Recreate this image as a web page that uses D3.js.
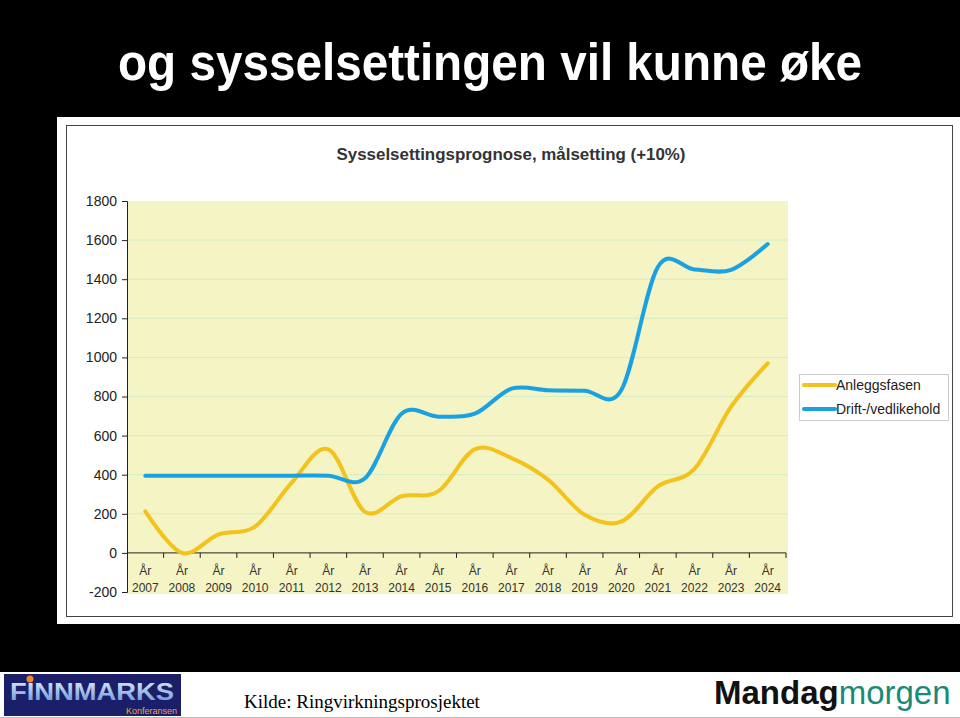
<!DOCTYPE html>
<html>
<head>
<meta charset="utf-8">
<script src="https://cdn.jsdelivr.net/npm/d3@7"></script>
<style>
  html, body { margin: 0; padding: 0; background: #000; }
  svg { display: block; }
</style>
</head>
<body>
<div id="chart"></div>
<script>
// data
const years = ["2007", "2008", "2009", "2010", "2011", "2012", "2013", "2014", "2015",
               "2016", "2017", "2018", "2019", "2020", "2021", "2022", "2023", "2024"]
const anlegg = [212, 0, 95, 135, 360, 530, 210, 290, 315, 530, 485, 375, 195, 160, 340, 430, 748, 970]
const drift  = [395, 395, 395, 395, 395, 395, 382, 712, 697, 712, 840, 832, 830, 832, 1462, 1450, 1448, 1580]
const yTicks = [-200, 0, 200, 400, 600, 800, 1000, 1200, 1400, 1600, 1800]
const seriesNames = ["Anleggsfasen", "Drift-/vedlikehold"]

const W = 960, H = 718
const YELLOW = "#f4c21c", BLUE = "#1ba1df"
const PLOT = {LEFT: 127, RIGHT: 786, TOP: 201, BOTTOM: 592}

const svg = d3.select("#chart").append("svg")
    .attr("width", W)
    .attr("height", H)
    .style("font-family", "'Liberation Sans', Arial, sans-serif")

svg.append("rect").attr("width", W).attr("height", H).attr("fill", "#000")

// slide title
svg.append("text")
    .attr("x", 490).attr("y", 80)
    .attr("text-anchor", "middle")
    .attr("fill", "#fff")
    .style("font-size", "52px").style("font-weight", "bold")
    .attr("textLength", 744).attr("lengthAdjust", "spacingAndGlyphs")
    .text("og sysselsettingen vil kunne øke")

// white panel with inner frame
svg.append("rect").attr("x", 57).attr("y", 117).attr("width", W - 57).attr("height", 507).attr("fill", "#fff")
svg.append("rect").attr("x", 66.5).attr("y", 125.5).attr("width", 886).attr("height", 491)
    .attr("fill", "none").attr("stroke", "#444").attr("stroke-width", 1)

svg.append("text")
    .attr("x", 511).attr("y", 160)
    .attr("text-anchor", "middle")
    .attr("fill", "#333")
    .style("font-size", "16.5px").style("font-weight", "bold")
    .attr("textLength", 349).attr("lengthAdjust", "spacingAndGlyphs")
    .text("Sysselsettingsprognose, målsetting (+10%)")

const x = d3.scaleBand().domain(years).range([PLOT.LEFT, PLOT.RIGHT]).padding(0)
const y = d3.scaleLinear().domain([-200, 1800]).range([PLOT.BOTTOM, PLOT.TOP])
const cx = d => x(d) + x.bandwidth() / 2

// plot background
svg.append("rect")
    .attr("x", PLOT.LEFT).attr("y", PLOT.TOP)
    .attr("width", 788 - PLOT.LEFT).attr("height", PLOT.BOTTOM - PLOT.TOP + 2)
    .attr("fill", "#f4f4c4")

// gridlines
svg.append("g").selectAll("line")
    .data(yTicks.filter(v => v > 0 && v < 1800))
    .join("line")
    .attr("x1", PLOT.LEFT).attr("x2", 788)
    .attr("y1", d => y(d)).attr("y2", d => y(d))
    .attr("stroke", "#d6ecc4").attr("stroke-width", 1)

// y axis
const yAxis = svg.append("g")
    .attr("transform", `translate(${PLOT.LEFT},0)`)
    .call(d3.axisLeft(y).tickValues(yTicks).tickSize(5).tickSizeOuter(5).tickFormat(d => String(d)))
yAxis.select(".domain").attr("stroke", "#222")
yAxis.selectAll(".tick line").attr("stroke", "#222")
yAxis.selectAll("text")
    .attr("fill", "#222")
    .attr("x", -10)
    .style("font-size", "14px")
    .style("font-family", "'Liberation Sans', Arial, sans-serif")

// x axis line at zero, ticks at category boundaries
svg.append("line")
    .attr("x1", PLOT.LEFT).attr("x2", PLOT.RIGHT)
    .attr("y1", y(0)).attr("y2", y(0))
    .attr("stroke", "#222")
svg.append("g").selectAll("line")
    .data(years)
    .join("line")
    .attr("x1", d => x(d) + x.bandwidth()).attr("x2", d => x(d) + x.bandwidth())
    .attr("y1", y(0)).attr("y2", y(0) + 5)
    .attr("stroke", "#222")

const xl = svg.append("g")
    .style("font-size", "12px")
    .attr("fill", "#333")
    .attr("text-anchor", "middle")
xl.selectAll("text.ar").data(years).join("text")
    .attr("class", "ar")
    .attr("x", cx).attr("y", 575)
    .text("År")
xl.selectAll("text.yr").data(years).join("text")
    .attr("class", "yr")
    .attr("x", cx).attr("y", 592)
    .text(d => d)

// lines
const line = d3.line()
    .x((d, i) => cx(years[i]))
    .y(d => y(d))
    .curve(d3.curveCatmullRom.alpha(0))

svg.append("path").datum(anlegg)
    .attr("d", line)
    .attr("fill", "none").attr("stroke", YELLOW).attr("stroke-width", 4)
    .attr("stroke-linecap", "round")
svg.append("path").datum(drift)
    .attr("d", line)
    .attr("fill", "none").attr("stroke", BLUE).attr("stroke-width", 4)
    .attr("stroke-linecap", "round")

// legend
const legend = svg.append("g").attr("transform", "translate(799,374)")
legend.append("rect").attr("x", 0.5).attr("y", 0.5).attr("width", 149).attr("height", 46)
    .attr("fill", "#fff").attr("stroke", "#ccc")
const legendItems = legend.selectAll("g.item")
    .data(seriesNames)
    .join("g")
    .attr("class", "item")
    .attr("transform", (d, i) => `translate(0,${11 + i * 24})`)
legendItems.append("line")
    .attr("x1", 5).attr("x2", 36)
    .attr("stroke", (d, i) => i === 0 ? YELLOW : BLUE)
    .attr("stroke-width", 4)
    .attr("stroke-linecap", "round")
legendItems.append("text")
    .attr("x", 37).attr("y", 5)
    .attr("fill", "#222")
    .style("font-size", "14px")
    .text(d => d)

// footer strip
svg.append("rect").attr("x", 0).attr("y", 672).attr("width", W).attr("height", 46).attr("fill", "#fff")
svg.append("line").attr("x1", 0).attr("x2", W).attr("y1", 717.5).attr("y2", 717.5).attr("stroke", "#bbb")

const logo = svg.append("g")
logo.append("rect").attr("x", 4).attr("y", 674).attr("width", 177).attr("height", 42).attr("fill", "#1b1f6a")
const grad = svg.append("defs").append("linearGradient")
    .attr("id", "fgrad").attr("x1", 0).attr("y1", 0).attr("x2", 0).attr("y2", 1)
grad.append("stop").attr("offset", "0%").attr("stop-color", "#e8f0fb")
grad.append("stop").attr("offset", "100%").attr("stop-color", "#5d8fd4")
logo.append("text")
    .attr("x", 92).attr("y", 700)
    .attr("text-anchor", "middle")
    .attr("fill", "url(#fgrad)")
    .style("font-size", "24px").style("font-weight", "bold")
    .attr("textLength", 164).attr("lengthAdjust", "spacingAndGlyphs")
    .text("FINNMARKS")
logo.append("circle").attr("cx", 30).attr("cy", 679).attr("r", 3.5).attr("fill", "#f08a24")
logo.append("text")
    .attr("x", 177).attr("y", 714)
    .attr("text-anchor", "end")
    .attr("fill", "#f0a040")
    .style("font-size", "9px")
    .text("Konferansen")

svg.append("text")
    .attr("x", 244).attr("y", 708)
    .attr("fill", "#000")
    .style("font-family", "'Liberation Serif', 'Times New Roman', serif")
    .style("font-size", "19px")
    .text("Kilde: Ringvirkningsprosjektet")

const mm = svg.append("text")
    .attr("x", 714).attr("y", 704)
    .style("font-size", "33px")
mm.append("tspan").attr("fill", "#111").style("font-weight", "bold").text("Mandag")
mm.append("tspan").attr("fill", "#1a8a78").text("morgen")
</script>
</body>
</html>
